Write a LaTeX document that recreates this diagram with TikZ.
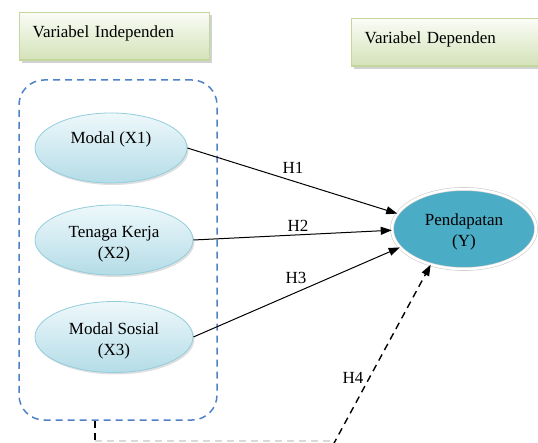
\documentclass[tikz,border=0pt]{standalone}
\usepackage{fontspec}
\setmainfont{Liberation Serif}
\usetikzlibrary{shapes.geometric,arrows.meta,shadows}
\definecolor{boxtop}{HTML}{FAFCF6}
\definecolor{boxbot}{HTML}{D4E2B8}
\definecolor{boxline}{HTML}{C3D69B}
\definecolor{elltop}{HTML}{EEF8FB}
\definecolor{ellbot}{HTML}{B4DCE7}
\definecolor{ellline}{HTML}{92CDDC}
\definecolor{dep}{HTML}{4BACC6}
\definecolor{grpline}{HTML}{4F81C4}
\begin{document}
\begin{tikzpicture}[x=1pt,y=-1pt,
  every node/.style={font=\fontsize{17}{21}\selectfont},
  varbox/.style={rectangle, draw=boxline, line width=1.2pt, top color=boxtop, bottom color=boxbot,
    drop shadow={shadow xshift=2.5pt, shadow yshift=-2.5pt, fill=black!35},
    inner xsep=13pt, inner ysep=0pt, align=left, text height=24.5pt, text depth=23pt, anchor=north west},
  indep/.style={ellipse, draw=ellline, line width=0.8pt, top color=elltop, bottom color=ellbot,
    drop shadow={shadow xshift=1.5pt, shadow yshift=-2pt, fill=black!25},
    inner sep=0pt, align=center},
  depell/.style={ellipse, fill=dep, draw=black!20, line width=0.6pt, double=white, double distance=2.5pt,
    inner sep=0pt, align=center},
  grp/.style={rectangle, draw=grpline, line width=1.5pt, dash pattern=on 7pt off 5pt, rounded corners=25pt},
  hyp/.style={draw=black, line width=1pt, -{Triangle[length=11pt,width=8pt]}},
  hdash/.style={draw=black, line width=1.4pt, dash pattern=on 7pt off 5pt},
  lab/.style={inner sep=0pt}
]
\useasboundingbox (0,0) rectangle (538,443);

\node[varbox, text width=164pt] (vi) at (19,12) {Variabel Independen};
\node[varbox, text width=180pt] (vd) at (351,18) {Variabel Dependen};

\node[grp, minimum width=198pt, minimum height=340pt] (g) at (118,250) {};

\node[indep, minimum width=152pt, minimum height=70pt] (m1) at (111,148) {Modal (X1)\\[0pt]~};
\node[indep, minimum width=158pt, minimum height=70pt] (m2) at (114,240) {\rule{0pt}{20pt}Tenaga Kerja\\(X2)};
\node[indep, minimum width=158pt, minimum height=71pt] (m3) at (114,337) {\rule{0pt}{20pt}Modal Sosial\\(X3)};

\node[depell, minimum width=144pt, minimum height=80pt] (p) at (464,229) {\rule{0pt}{18pt}Pendapatan\\(Y)};

\draw[hyp] (m1.east) -- (p.167);
\draw[hyp] (m2.east) -- (p.181);
\draw[hyp] (m3.east) -- (p.196);

\node[lab] (h1) at (293,168) {H1};
\node[lab] (h2) at (298,226) {H2};
\node[lab] (h3) at (296,278) {H3};
\node[lab] (h4) at (353,378) {H4};

\coordinate (c1) at (95,441);
\coordinate (c2) at (333,441);
\draw[hdash] ([xshift=-23pt]g.south) -- (95,445);
\draw[draw=black!15, line width=1.2pt, dash pattern=on 7pt off 5pt] (c1) -- (c2);
\draw[hdash, -{Triangle[length=11pt,width=8pt]}] (333,445) -- (p.227);
\end{tikzpicture}
\end{document}
